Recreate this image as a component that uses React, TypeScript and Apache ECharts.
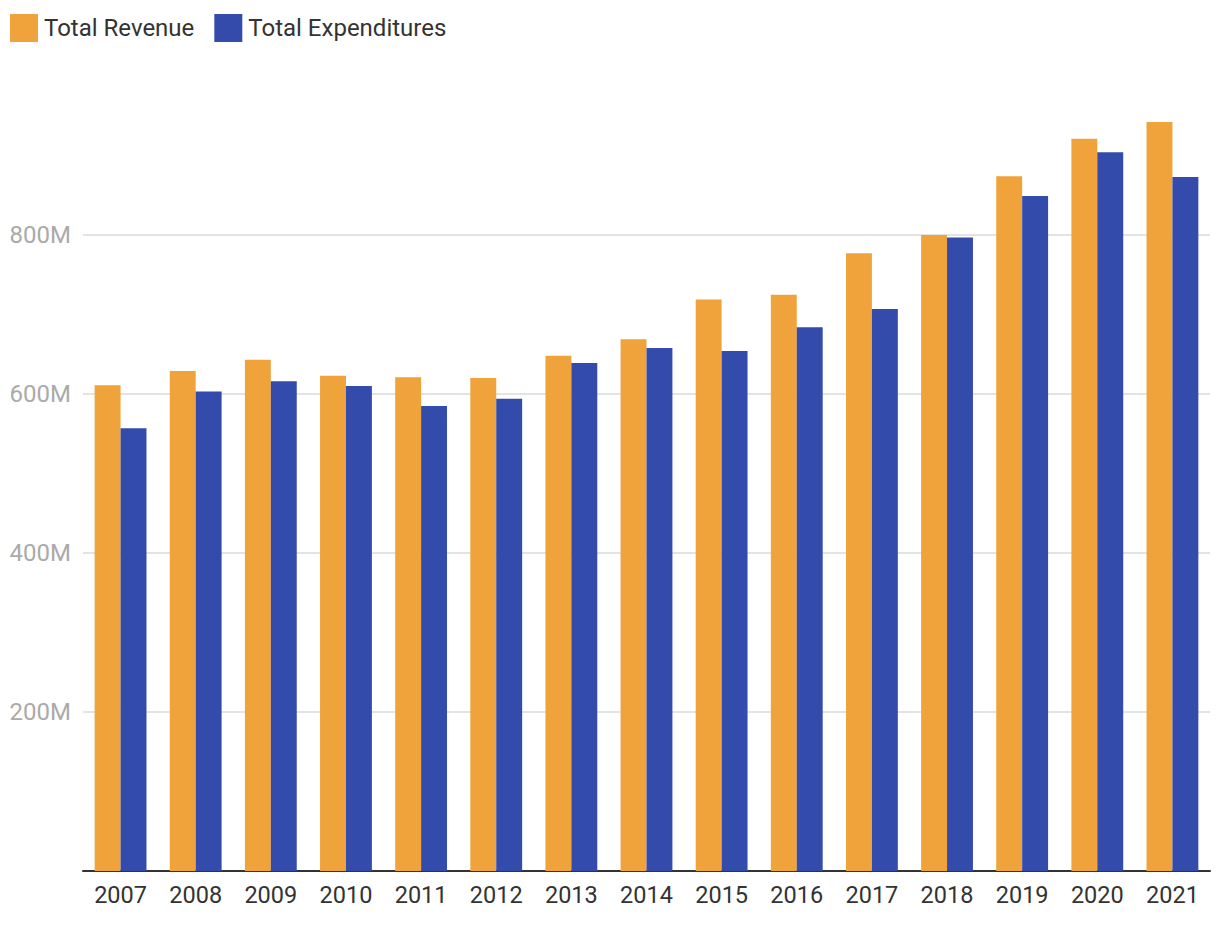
import React, { useEffect, useRef } from "react";
import * as echarts from "echarts";

const years = ["2007","2008","2009","2010","2011","2012","2013","2014","2015","2016","2017","2018","2019","2020","2021"];
const revenue = [611, 629, 643, 623, 621, 620, 648, 669, 719, 725, 777, 800, 874, 921, 942];
const expenditures = [557, 603, 616, 610, 585, 594, 639, 658, 654, 684, 707, 797, 849, 904, 873];
const seriesNames = ["Total Revenue", "Total Expenditures"];
const colors = ["#F0A33A", "#334BAA"];

export default function App() {
  const ref = useRef<HTMLDivElement>(null);
  useEffect(() => {
    const chart = echarts.init(ref.current!, null, { renderer: "svg" });
    chart.setOption({
      animation: false,
      textStyle: { fontFamily: "Roboto" },
      legend: {
        left: 10,
        top: 14,
        padding: 0,
        itemWidth: 28,
        itemHeight: 28,
        itemGap: 20,
        icon: "rect",
        textStyle: { fontSize: 24, color: "#333", fontFamily: "Roboto", padding: [0, 0, 0, 1] },
        data: seriesNames,
      },
      grid: { left: 83, right: 10, top: 76, bottom: 55, containLabel: false },
      xAxis: {
        type: "category",
        data: years,
        axisLine: { lineStyle: { color: "#333", width: 2 } },
        axisTick: { show: false },
        axisLabel: { fontSize: 23.5, color: "#333", margin: 12, fontFamily: "Roboto" },
      },
      yAxis: {
        type: "value",
        min: 0,
        max: 1000,
        interval: 200,
        axisLine: { show: false },
        axisTick: { show: false },
        splitLine: { show: true, showMaxLine: false, lineStyle: { color: "#e3e3e3", width: 2 } },
        axisLabel: {
          fontSize: 24,
          color: "#aaa",
          margin: 12,
          fontFamily: "Roboto",
          formatter: (v: number) => (v === 0 || v === 1000 ? "" : v + "M"),
        },
      },
      series: [
        { name: seriesNames[0], type: "bar", data: revenue, itemStyle: { color: colors[0] }, barGap: "0%", barCategoryGap: "31%" },
        { name: seriesNames[1], type: "bar", data: expenditures, itemStyle: { color: colors[1] }, barGap: "0%", barCategoryGap: "31%" },
      ],
    });
    return () => chart.dispose();
  }, []);
  return <div ref={ref} style={{ width: 1220, height: 926, position: "absolute", left: 0, top: 0, background: "#fff" }} />;
}
